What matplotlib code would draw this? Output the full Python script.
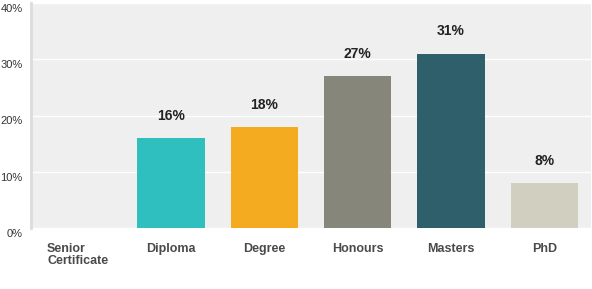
import matplotlib
matplotlib.use("Agg")
import matplotlib.pyplot as plt
import matplotlib.transforms as mtransforms

categories = ["Senior\nCertificate", "Diploma", "Degree", "Honours", "Masters", "PhD"]
values = [0, 16, 18, 27, 31, 8]
labels = ["", "16%", "18%", "27%", "31%", "8%"]
colors = ["#2fbfbf", "#2fbfbf", "#f4ab1f", "#86877a", "#2e5f6b", "#d0cfc0"]
yticks = [0, 10, 20, 30, 40]
yticklabels = ["0%", "10%", "20%", "30%", "40%"]

plt.rcParams["font.family"] = ["Liberation Sans", "DejaVu Sans"]

fig = plt.figure(figsize=(5.92, 2.89), dpi=100)
ax = fig.add_axes([31 / 592, 1 - 228 / 289, 560 / 592, 225 / 289])
ax.set_facecolor("#efefef")

x = list(range(len(categories)))
bars = ax.bar(x, values, width=0.72, color=colors, zorder=3)
for xi, v, lab in zip(x, values, labels):
    if lab:
        ax.annotate(lab, (xi, v), xytext=(0, 16), textcoords="offset points",
                    ha="center", va="center", fontsize=10, fontweight="bold",
                    color="#222222", zorder=4)

ax.set_xlim(-0.5, 5.5)
ax.set_ylim(0, 40)
ax.set_yticks(yticks)
ax.set_yticklabels(yticklabels, fontsize=8, color="#333333")
ax.set_xticks(x)
ax.set_xticklabels(categories, fontsize=9, fontweight="bold", color="#4a4a4a",
                   linespacing=1.0)
ax.tick_params(axis="both", length=0)
ax.tick_params(axis="y", pad=6)
ax.tick_params(axis="x", pad=11)
for lbl in ax.get_xticklabels():
    lbl.set_verticalalignment("top")
    lbl.set_multialignment("left")
offset = mtransforms.ScaledTranslation(0, -5 / 100, fig.dpi_scale_trans)
for lbl in ax.get_yticklabels():
    lbl.set_transform(lbl.get_transform() + offset)

ax.grid(axis="y", color="white", linewidth=1, zorder=1)
for s in ["top", "right", "bottom"]:
    ax.spines[s].set_visible(False)
ax.spines["left"].set_color("#dcdcdc")
ax.spines["left"].set_linewidth(2)

fig.savefig("out.png", dpi=100, facecolor="white")
